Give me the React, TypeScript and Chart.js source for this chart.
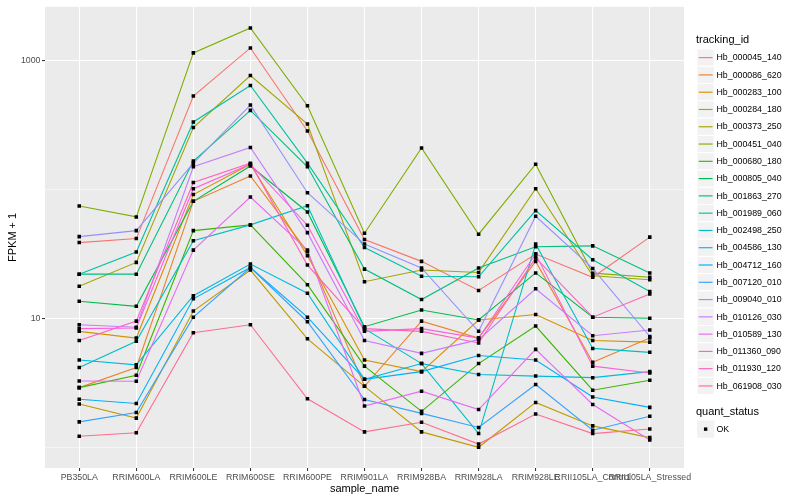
import { useEffect, useRef } from 'react';
import { Chart, registerables } from 'chart.js';

Chart.register(...registerables);

const FONT = '"Liberation Sans", Arial, Helvetica, sans-serif';

const categories = [
  'PB350LA', 'RRIM600LA', 'RRIM600LE', 'RRIM600SE', 'RRIM600PE', 'RRIM901LA',
  'RRIM928BA', 'RRIM928LA', 'RRIM928LE', 'RRII105LA_Control', 'RRII105LA_Stressed',
];

const trackingIds = [
  'Hb_000045_140', 'Hb_000086_620', 'Hb_000283_100', 'Hb_000284_180', 'Hb_000373_250',
  'Hb_000451_040', 'Hb_000680_180', 'Hb_000805_040', 'Hb_001863_270', 'Hb_001989_060',
  'Hb_002498_250', 'Hb_004586_130', 'Hb_004712_160', 'Hb_007120_010', 'Hb_009040_010',
  'Hb_010126_030', 'Hb_010589_130', 'Hb_011360_090', 'Hb_011930_120', 'Hb_061908_030',
];

const colors = [
  '#F8766D', '#EA8331', '#D89000', '#C09B00', '#A3A500', '#7CAE00', '#39B600', '#00BB4E',
  '#00BF7D', '#00C1A3', '#00BFC4', '#00BAE0', '#00B0F6', '#35A2FF', '#9590FF', '#C77CFF',
  '#E76BF3', '#FA62DB', '#FF62BC', '#FF6C91',
];

// FPKM + 1 per sample (order of categories)
const hb000045_140 = [39.0, 41.9, 533, 1259, 286, 41.2, 27.9, 16.6, 31.8, 21.0, 43.0];
const hb000086_620 = [2.93, 4.2, 81.5, 128, 33.1, 3.0, 9.6, 7.1, 27.9, 4.6, 7.1];
const hb000283_100 = [8.0, 7.1, 92, 158, 30.8, 4.8, 3.9, 9.8, 10.8, 6.8, 6.6];
const hb000284_180 = [2.19, 1.7, 11.5, 23.9, 7.0, 3.0, 1.33, 1.01, 2.25, 1.48, 1.2];
const hb000373_250 = [17.9, 27.4, 304, 769, 324, 19.4, 23.9, 22.9, 102, 21.6, 20.1];
const hb000451_040 = [75, 61.7, 1153, 1799, 449, 46.1, 211, 45.3, 158, 22.6, 21.0];
const hb000680_180 = [2.93, 3.65, 48.3, 53.5, 18.4, 4.3, 1.92, 4.5, 8.8, 2.8, 3.34];
const hb000805_040 = [13.7, 12.5, 81.5, 153, 67.4, 8.7, 11.7, 9.8, 22.7, 10.3, 10.1];
const hb001863_270 = [22.2, 22.2, 167, 413, 151, 24.3, 14.1, 24.8, 36.2, 36.8, 22.7];
const hb001989_060 = [22.2, 33.0, 336, 644, 161, 35.7, 21.4, 21.2, 69, 28.7, 16.3];
const hb002498_250 = [4.2, 6.7, 40.3, 53.5, 75.4, 8.4, 4.5, 1.29, 38.1, 5.9, 5.5];
const hb004586_130 = [4.8, 4.4, 15.1, 26.6, 15.8, 3.4, 4.5, 3.7, 3.6, 3.5, 3.9];
const hb004712_160 = [2.38, 2.21, 14.3, 25.0, 10.3, 3.4, 3.9, 5.2, 4.8, 2.48, 2.06];
const hb007120_010 = [1.59, 1.88, 10.3, 25.0, 9.5, 2.37, 1.85, 1.44, 3.1, 1.37, 1.76];
const hb009040_010 = [43.4, 48.3, 161, 454, 95, 38.0, 24.8, 8.0, 62.4, 24.6, 7.3];
const hb010126_030 = [9.0, 8.6, 151, 213, 46.6, 6.8, 5.4, 6.9, 17.1, 7.4, 8.2];
const hb010589_130 = [3.3, 3.28, 34.1, 88, 34.1, 2.11, 2.75, 1.98, 5.8, 2.17, 1.15];
const hb011360_090 = [8.4, 8.5, 102, 158, 53.2, 8.0, 8.4, 7.1, 31.8, 4.3, 3.8];
const hb011930_120 = [6.8, 9.6, 114, 161, 26.1, 8.4, 8.0, 6.5, 29.7, 10.3, 15.6];
const hb061908_030 = [1.23, 1.31, 7.8, 9.0, 2.4, 1.33, 1.58, 1.07, 1.83, 1.29, 1.4];

const seriesValues = [
  hb000045_140, hb000086_620, hb000283_100, hb000284_180, hb000373_250,
  hb000451_040, hb000680_180, hb000805_040, hb001863_270, hb001989_060,
  hb002498_250, hb004586_130, hb004712_160, hb007120_010, hb009040_010,
  hb010126_030, hb010589_130, hb011360_090, hb011930_120, hb061908_030,
];

const yGridValues = [1, 10, 100, 1000];
const yLabelledTicks = [10, 1000];
const yMin = 0.698;
const yMax = 2625;

const statusLevels = ['OK'];

const decorPlugin = {
  id: 'ggDecor',
  beforeDraw(chart: any) {
    const { ctx, chartArea: a, width, height } = chart;
    ctx.save();
    ctx.fillStyle = '#FFFFFF';
    ctx.fillRect(0, 0, width, height);
    ctx.fillStyle = '#EBEBEB';
    ctx.fillRect(a.left, a.top, a.right - a.left, a.bottom - a.top);
    ctx.restore();
  },
  afterDraw(chart: any) {
    const { ctx, chartArea: a } = chart;
    ctx.save();
    ctx.fillStyle = '#000000';
    ctx.font = `11px ${FONT}`;
    ctx.textAlign = 'center';
    ctx.textBaseline = 'middle';
    ctx.fillText('sample_name', (a.left + a.right) / 2, 489);
    ctx.save();
    ctx.translate(12.5, (a.top + a.bottom) / 2);
    ctx.rotate(-Math.PI / 2);
    ctx.fillText('FPKM + 1', 0, 0);
    ctx.restore();

    const kx = 697;
    const ks = 17.28;
    const ky0 = 49;
    ctx.textAlign = 'left';
    ctx.font = `11px ${FONT}`;
    ctx.fillText('tracking_id', 696, 40);
    ctx.font = `8.8px ${FONT}`;
    trackingIds.forEach((id, i) => {
      const y = ky0 + ks * i;
      ctx.fillStyle = '#F2F2F2';
      ctx.fillRect(kx, y, ks, ks);
      ctx.strokeStyle = '#FFFFFF';
      ctx.lineWidth = 1;
      ctx.strokeRect(kx, y, ks, ks);
      ctx.strokeStyle = colors[i];
      ctx.lineWidth = 1.15;
      ctx.beginPath();
      ctx.moveTo(kx + 1.7, y + ks / 2);
      ctx.lineTo(kx + ks - 1.7, y + ks / 2);
      ctx.stroke();
      ctx.fillStyle = '#000000';
      ctx.fillText(id, 716.5, y + ks / 2 + 0.3);
    });

    ctx.font = `11px ${FONT}`;
    ctx.fillText('quant_status', 696, 412);
    ctx.font = `8.8px ${FONT}`;
    statusLevels.forEach((lvl, i) => {
      const y = 420.5 + ks * i;
      ctx.fillStyle = '#F2F2F2';
      ctx.fillRect(kx, y, ks, ks);
      ctx.fillStyle = '#000000';
      ctx.fillRect(kx + ks / 2 - 1.7, y + ks / 2 - 1.7, 3.4, 3.4);
      ctx.fillText(lvl, 716.5, y + ks / 2 + 0.3);
    });
    ctx.restore();
  },
};

export default function App() {
  const ref = useRef<HTMLCanvasElement>(null);

  useEffect(() => {
    if (!ref.current) return;
    const lineSets = seriesValues.map((vals, i) => ({
      type: 'line',
      label: trackingIds[i],
      data: vals.map((v, j) => ({ x: j, y: v })),
      borderColor: colors[i],
      backgroundColor: colors[i],
      borderWidth: 1.1,
      pointRadius: 0,
      fill: false,
      tension: 0,
      order: 100 - i,
    }));
    const pointSets = seriesValues.map((vals, i) => ({
      type: 'line',
      label: trackingIds[i] + ' points',
      data: vals.map((v, j) => ({ x: j, y: v })),
      showLine: false,
      pointStyle: 'rect',
      pointRadius: 2.5,
      pointBackgroundColor: '#000000',
      pointBorderColor: '#000000',
      pointBorderWidth: 0,
      order: 0,
    }));

    const chart = new Chart(ref.current, {
      type: 'line',
      data: { datasets: [...pointSets, ...lineSets] as any },
      options: {
        animation: false,
        responsive: false,
        devicePixelRatio: 1,
        layout: { padding: { left: 0, right: 116, top: 5, bottom: 0 } },
        plugins: { legend: { display: false }, tooltip: { enabled: false } },
        scales: {
          x: {
            type: 'linear',
            min: -0.6,
            max: categories.length - 1 + 0.6,
            afterBuildTicks: (scale: any) => {
              scale.ticks = categories.map((_, i) => ({ value: i }));
            },
            afterFit: (scale: any) => {
              scale.height = 32;
            },
            border: { display: false },
            grid: {
              color: '#FFFFFF',
              lineWidth: 1.07,
              tickColor: '#333333',
              tickLength: 3,
              drawTicks: true,
            },
            ticks: {
              autoSkip: false,
              maxRotation: 0,
              minRotation: 0,
              padding: 1,
              color: '#4D4D4D',
              font: { family: FONT, size: 8.8 },
              callback: (v: any) => categories[v] ?? '',
            },
          },
          y: {
            type: 'logarithmic',
            min: yMin,
            max: yMax,
            afterBuildTicks: (scale: any) => {
              scale.ticks = yGridValues.map((v) => ({ value: v, major: yLabelledTicks.includes(v) }));
            },
            afterFit: (scale: any) => {
              scale.width = 45;
            },
            border: { display: false },
            grid: {
              color: '#FFFFFF',
              lineWidth: (c: any) => (yLabelledTicks.includes(c.tick?.value) ? 1.07 : 0.53),
              tickColor: (c: any) => (yLabelledTicks.includes(c.tick?.value) ? '#333333' : 'rgba(0,0,0,0)'),
              tickLength: 3,
            },
            ticks: {
              padding: 1.5,
              color: '#4D4D4D',
              font: { family: FONT, size: 8.8 },
              callback: (v: any) => (yLabelledTicks.includes(Number(v)) ? String(v) : ''),
            },
          },
        },
      },
      plugins: [decorPlugin],
    } as any);

    return () => chart.destroy();
  }, []);

  return (
    <div style={{ position: 'absolute', left: 0, top: 0, width: 800, height: 500 }}>
      <canvas ref={ref} width={800} height={500} style={{ width: 800, height: 500 }} />
    </div>
  );
}
